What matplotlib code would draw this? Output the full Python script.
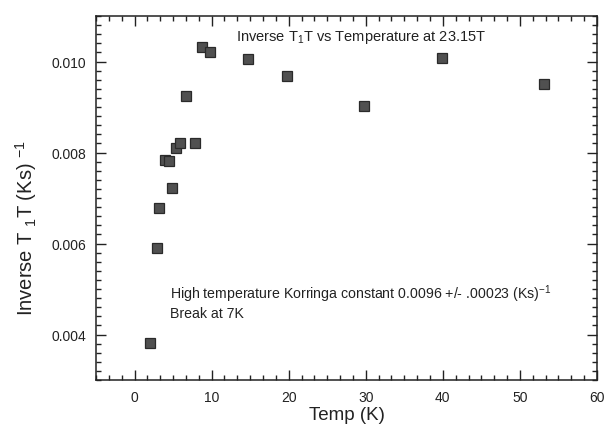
import matplotlib
matplotlib.use("Agg")
import matplotlib.pyplot as plt
from matplotlib.ticker import MultipleLocator, FormatStrFormatter

plt.rcParams['font.family'] = ['Liberation Sans', 'DejaVu Sans']
plt.rcParams['mathtext.fontset'] = 'custom'
plt.rcParams['mathtext.rm'] = 'Liberation Sans'
plt.rcParams['mathtext.it'] = 'Liberation Sans:italic'

temp_K = [2.0, 2.86, 3.2, 3.94, 4.46, 4.89, 5.33, 5.85, 6.71, 7.84, 8.79, 9.79,
          14.77, 19.77, 29.78, 39.87, 53.06]
inv_T1T = [0.00381, 0.00591, 0.00677, 0.00783, 0.00781, 0.00721, 0.00809, 0.00820,
           0.00925, 0.00820, 0.01032, 0.01020, 0.01005, 0.00969, 0.00903, 0.01007, 0.00950]

title_text = r"Inverse T$\mathregular{_1}$T vs Temperature at 23.15T"
note_text = ("High temperature Korringa constant 0.0096 +/- .00023 (Ks)$\\mathregular{^{-1}}$\n"
             "Break at 7K")

fig = plt.figure(figsize=(6.04, 4.27), dpi=100)
ax = fig.add_axes([96/604, 1-381/427, (597-96)/604, (381-17)/427])

ax.plot(temp_K, inv_T1T, linestyle='none', marker='s', markersize=7.3,
        markerfacecolor='#505050', markeredgecolor='#2a2a2a', markeredgewidth=0.9)

ax.set_xlim(-5, 60)
ax.set_ylim(0.003, 0.011)
ax.xaxis.set_major_locator(MultipleLocator(10))
ax.xaxis.set_minor_locator(MultipleLocator(10/6))
ax.yaxis.set_major_locator(MultipleLocator(0.002))
ax.yaxis.set_minor_locator(MultipleLocator(0.0002))
ax.yaxis.set_major_formatter(FormatStrFormatter('%.3f'))

ax.tick_params(which='both', direction='in', top=True, right=True, labelsize=10,
               colors='#222222', width=1.0)
ax.tick_params(which='major', length=7, pad=7)
ax.tick_params(which='minor', length=3.5)
for s in ax.spines.values():
    s.set_linewidth(1.1)
    s.set_color('#222222')

ax.set_xlabel('Temp (K)', fontsize=13.5, color='#222222', labelpad=2)
ax.set_ylabel(r"Inverse T $\mathregular{_1}$T (Ks) $\mathregular{^{-1}}$", fontsize=14.5,
              color='#222222')
ax.yaxis.set_label_coords(-0.114, 0.42)

ax.text(13.1, 0.01055, title_text, fontsize=10.5, va='center', ha='left', color='#222222')
ax.text(4.6, 0.00473, note_text, fontsize=10.2, va='center', ha='left', color='#222222',
        linespacing=1.2)

fig.savefig('out.png', dpi=100)
